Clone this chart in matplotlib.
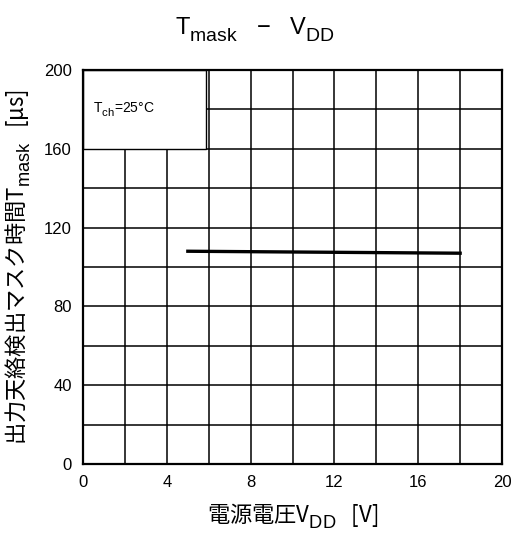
import numpy as np
import matplotlib
matplotlib.use("Agg")
import matplotlib.pyplot as plt
import matplotlib._mathtext as mathtext
from matplotlib.patches import Rectangle

plt.rcParams["font.family"] = ["Liberation Sans", "DejaVu Sans"]
plt.rcParams["mathtext.fontset"] = "custom"
plt.rcParams["mathtext.rm"] = "Liberation Sans"
plt.rcParams["mathtext.it"] = "Liberation Sans:italic"
plt.rcParams["mathtext.bf"] = "Liberation Sans:bold"
# subscripts in the original are only a little smaller than the base text
# and sit a bit lower
mathtext.SHRINK_FACTOR = 0.82
mathtext.FontConstantsBase.sub1 = 0.55
mathtext.FontConstantsBase.sub2 = 0.65

# data
vdd = [5, 18]
t_mask = [108, 107]

x_ticks = [0, 4, 8, 12, 16, 20]
y_ticks = [0, 40, 80, 120, 160, 200]

jp = ["Noto Sans CJK JP", "DejaVu Sans"]

fig = plt.figure(figsize=(5.13, 5.34), dpi=100)
ax = fig.add_axes([0.162, 0.131, 0.8166, 0.738])

ax.plot(vdd, t_mask, color="black", linewidth=2.4, zorder=3)

ax.set_xlim(0, 20)
ax.set_ylim(0, 200)
ax.set_xticks(np.arange(0, 21, 2))
ax.set_yticks(np.arange(0, 201, 20))
ax.grid(True, color="black", linewidth=1.1)
ax.set_axisbelow(True)
ax.set_xticklabels([str(v) if v in x_ticks else "" for v in range(0, 21, 2)])
ax.set_yticklabels([str(v) if v in y_ticks else "" for v in range(0, 201, 20)])
ax.tick_params(length=0, labelsize=12, pad=8)
for s in ax.spines.values():
    s.set_linewidth(1.6)
    s.set_color("black")

# condition box covering the grid in the top-left corner
box = Rectangle((0, 160), 5.88, 40, facecolor="white", edgecolor="black",
                linewidth=1.0, zorder=2)
ax.add_patch(box)
ax.text(0.45, 180, r"T$_{\mathrm{ch}}$=25°C", fontsize=10, va="center",
        ha="left", zorder=4)

fig.text(0.497, 0.944, r"T$_{\mathrm{mask}}$   $-$   V$_{\mathrm{DD}}$",
         fontsize=17, ha="center", va="center")

ax.set_xlabel(r"電源電圧V$_{\mathrm{DD}}$   [V]", family=jp, fontsize=16,
              labelpad=8)
ax.set_ylabel(r"出力天絡検出マスク時間T$_{\mathrm{mask}}$   [μs]", family=jp,
              fontsize=16, labelpad=8)

fig.savefig("out.png", dpi=100)
